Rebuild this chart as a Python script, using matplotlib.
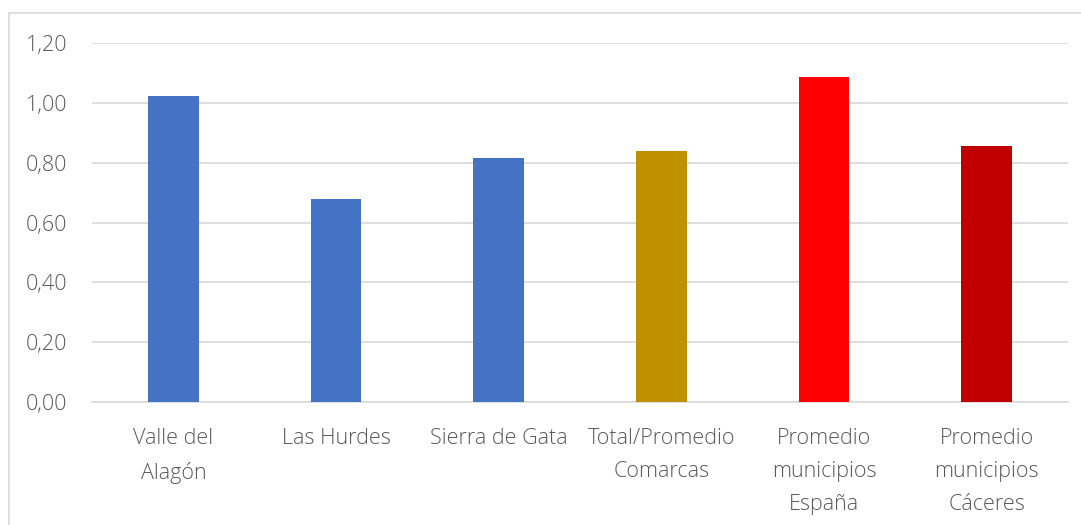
import matplotlib.pyplot as plt
from matplotlib.patches import Rectangle

# Data
categories = ["Valle del\nAlagón", "Las Hurdes", "Sierra de Gata",
              "Total/Promedio\nComarcas", "Promedio\nmunicipios\nEspaña",
              "Promedio\nmunicipios\nCáceres"]
values = [1.023, 0.679, 0.816, 0.839, 1.086, 0.856]
colors = ["#4472C4", "#4472C4", "#4472C4", "#BF9000", "#FF0000", "#C00000"]
yticks = [0.0, 0.2, 0.4, 0.6, 0.8, 1.0, 1.2]

plt.rcParams['font.family'] = ['Open Sans', 'DejaVu Sans']
plt.rcParams['font.weight'] = 'light'

fig = plt.figure(figsize=(10.81, 5.25), dpi=100)
ax = fig.add_axes([92/1081, 1 - 402/525, (1068 - 92)/1081, (402 - 43)/525])

x = range(len(categories))
ax.bar(x, values, width=0.31, color=colors, zorder=3)

ax.set_ylim(0, 1.2)
ax.set_xlim(-0.5, len(categories) - 0.5)
ax.set_yticks(yticks)
ax.set_yticklabels([f"{v:.2f}".replace(".", ",") for v in yticks])
ax.set_xticks(list(x))
ax.set_xticklabels(categories, linespacing=1.75, va="top")

ax.grid(axis="y", color="#D9D9D9", linewidth=1.2, zorder=0)
for s in ["top", "right", "left"]:
    ax.spines[s].set_visible(False)
ax.spines["bottom"].set_color("#D9D9D9")
ax.spines["bottom"].set_linewidth(1.2)
ax.tick_params(axis="both", length=0, labelsize=15.5, colors="#595959")
ax.tick_params(axis="x", pad=19)
ax.tick_params(axis="y", pad=18)

# chart border
fig.patches.append(Rectangle((9/1081, -0.01), 1.02, 1 - 13/525 + 0.01,
                             transform=fig.transFigure, fill=False,
                             edgecolor="#D9D9D9", linewidth=1.2))

fig.savefig("out.png", dpi=100)
